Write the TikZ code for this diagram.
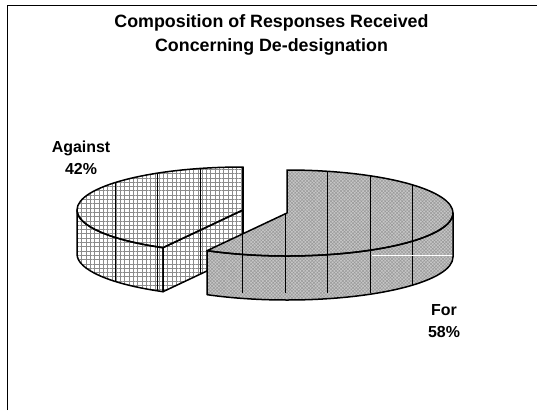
\documentclass[tikz,border=0pt]{standalone}
\usepackage{fontspec}
\setmainfont{Liberation Sans}
\usetikzlibrary{patterns.meta}

\tikzset{
  slice edge/.style={line width=1.5bp,line join=round},
  grid line/.style={line width=0.8bp},
  against fill/.style={preaction={fill=white},pattern={Hatch[angle=0,distance=4.3bp,line width=0.5bp]},pattern color=black!45},
  for fill/.style={preaction={fill=black!22},pattern={Hatch[angle=45,distance=2.4bp,line width=0.5bp]},pattern color=black!40},
  label text/.style={font=\bfseries\fontsize{16}{22}\selectfont,align=center}
}

\begin{document}
\begin{tikzpicture}[x=1bp,y=1bp]
\useasboundingbox (0,0) rectangle (537,410);
\draw[line width=0.8bp] (7,0) -- (7,405) -- (537,405);

\node[font=\bfseries\fontsize{17.9}{24}\selectfont,align=center] (title) at (271.5,375)
  {Composition of Responses Received\\Concerning De-designation};

% against, 42%
\begin{scope}[shift={(243,200)}]
  \path[against fill] (180:166 and 43) arc[start angle=180,end angle=241.2,x radius=166,y radius=43]
    -- ++(0,-44) arc[start angle=241.2,end angle=180,x radius=166,y radius=43] -- cycle;
  \path[against fill] (0,0) -- (241.2:166 and 43) -- ++(0,-44) -- (0,-44) -- cycle;
  \path[against fill] (0,0) -- (90:166 and 43) arc[start angle=90,end angle=241.2,x radius=166,y radius=43] -- cycle;
  \begin{scope}
    \clip (0,0) -- (90:166 and 43) arc[start angle=90,end angle=180,x radius=166,y radius=43]
      -- ++(0,-44) arc[start angle=180,end angle=241.2,x radius=166,y radius=43] -- (0,-44) -- cycle;
    \foreach \x in {115,157.5,...,420}
      \draw[grid line] (\x-243,-80) -- (\x-243,80);
  \end{scope}
  \draw[slice edge] (180:166 and 43) arc[start angle=180,end angle=241.2,x radius=166,y radius=43]
    -- ++(0,-44) arc[start angle=241.2,end angle=180,x radius=166,y radius=43] -- cycle;
  \draw[slice edge] (0,0) -- (241.2:166 and 43) -- ++(0,-44) -- (0,-44) -- cycle;
  \draw[slice edge] (0,0) -- (90:166 and 43) arc[start angle=90,end angle=241.2,x radius=166,y radius=43] -- cycle;
\end{scope}

% for, 58%
\begin{scope}[shift={(287,197)}]
  \path[for fill] (-118.8:166 and 43) arc[start angle=-118.8,end angle=0,x radius=166,y radius=43]
    -- ++(0,-44) arc[start angle=0,end angle=-118.8,x radius=166,y radius=43] -- cycle;
  \path[for fill] (0,0) -- (-118.8:166 and 43) arc[start angle=-118.8,end angle=90,x radius=166,y radius=43] -- cycle;
  \begin{scope}
    \clip (0,0) -- (-118.8:166 and 43) -- ++(0,-44) arc[start angle=-118.8,end angle=0,x radius=166,y radius=43]
      -- ++(0,44) arc[start angle=0,end angle=90,x radius=166,y radius=43] -- cycle;
    \foreach \x in {115,157.5,...,420}
      \draw[grid line] (\x-287,-80) -- (\x-287,80);
    \draw[white,line width=0.8bp] (85,-42) -- (170,-42);
  \end{scope}
  \draw[slice edge] (-118.8:166 and 43) arc[start angle=-118.8,end angle=0,x radius=166,y radius=43]
    -- ++(0,-44) arc[start angle=0,end angle=-118.8,x radius=166,y radius=43] -- cycle;
  \draw[slice edge] (0,0) -- (-118.8:166 and 43) arc[start angle=-118.8,end angle=90,x radius=166,y radius=43] -- cycle;
\end{scope}

\node[label text] (against) at (81,252.5) {Against\\42\%};
\node[label text] (for) at (444,88.5) {For\\58\%};
\end{tikzpicture}
\end{document}
